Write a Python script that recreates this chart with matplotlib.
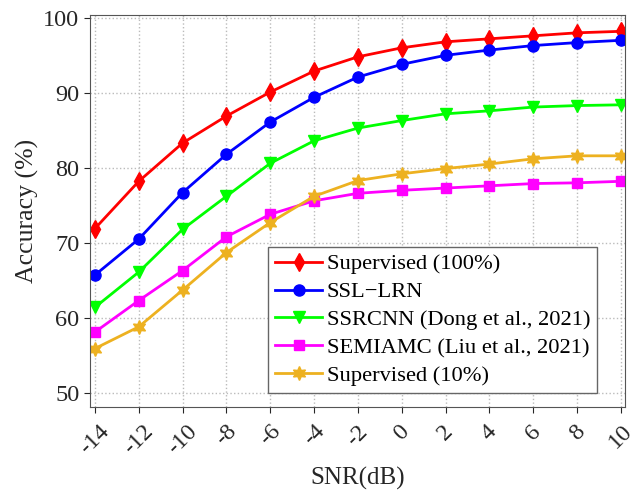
import matplotlib
matplotlib.use('Agg')
import matplotlib.pyplot as plt

snr = [-14, -12, -10, -8, -6, -4, -2, 0, 2, 4, 6, 8, 10]
sup_100 = [71.9, 78.2, 83.3, 86.9, 90.1, 92.9, 94.8, 96.0, 96.8, 97.2, 97.6, 98.0, 98.2]
ssl_lrn = [65.7, 70.5, 76.7, 81.8, 86.1, 89.4, 92.1, 93.8, 95.0, 95.7, 96.3, 96.7, 97.0]
ssrcnn = [61.4, 66.1, 71.8, 76.2, 80.6, 83.6, 85.3, 86.3, 87.2, 87.6, 88.1, 88.3, 88.4]
semiamc = [58.1, 62.3, 66.3, 70.8, 73.8, 75.6, 76.6, 77.0, 77.3, 77.6, 77.9, 78.0, 78.2]
sup_10 = [55.9, 58.8, 63.7, 68.7, 72.7, 76.2, 78.3, 79.2, 79.9, 80.5, 81.2, 81.6, 81.6]

labels = ['Supervised (100%)', 'SSL\u2212LRN', 'SSRCNN (Dong et al., 2021)',
          'SEMIAMC (Liu et al., 2021)', 'Supervised (10%)']

plt.rcParams['font.family'] = ['Liberation Serif', 'DejaVu Serif']

fig = plt.figure(figsize=(6.33, 4.94), dpi=100)
ax = fig.add_axes([0.142, 0.176, 0.845, 0.794])

series = [sup_100, ssl_lrn, ssrcnn, semiamc, sup_10]
colors = ['#ff0000', '#0000ff', '#00ff00', '#ff00ff', '#edb120']
markers = ['d', 'o', 'v', 's', (6, 1, 0)]
sizes = [9, 8, 8.5, 7, 10]
for vals, lab, c, m, ms in zip(series, labels, colors, markers, sizes):
    ax.plot(snr, vals, color=c, marker=m, markersize=ms, linewidth=2, label=lab)

ax.set_xlim(-14.23, 10.18)
ax.set_ylim(48.1, 100.4)
ax.set_xticks(snr)
ax.set_xticklabels([str(s) for s in snr], rotation=45, ha='center')
ax.set_yticks([50, 60, 70, 80, 90, 100])
ax.tick_params(labelsize=17.5, colors='#262626', direction='out', length=4)
ax.tick_params(axis='x', pad=6)
ax.grid(True, linestyle=':', color='#bbbbbb', linewidth=1)
for sp in ax.spines.values():
    sp.set_color('#555555')

ax.set_xlabel('SNR(dB)', fontsize=18, color='#262626', labelpad=6)
ax.set_ylabel('Accuracy (%)', fontsize=18.5, color='#262626', labelpad=3)

leg = ax.legend(loc='lower right', bbox_to_anchor=(597 / 633, 1 - 393 / 494),
                bbox_transform=fig.transFigure, fontsize=16.2,
                fancybox=False, edgecolor='#666666', framealpha=1,
                handlelength=2.1, borderpad=0.3, labelspacing=0.32,
                handletextpad=0.2, borderaxespad=0)
leg.get_frame().set_linewidth(1)

fig.savefig('out.png', dpi=100)
